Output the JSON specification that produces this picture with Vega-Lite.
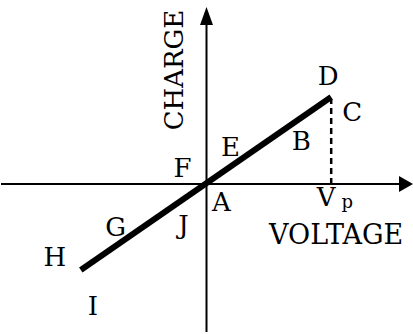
{
  "$schema": "https://vega.github.io/schema/vega-lite/v6.json",
  "width": 413,
  "height": 334,
  "autosize": {"type": "fit", "contains": "padding"},
  "padding": 0,
  "background": "white",
  "config": {"view": {"stroke": null}},
  "datasets": {
    "axes": [
      {"name": "voltage axis", "x": -206, "x2": 195, "y": 0, "y2": 0},
      {"name": "charge axis", "x": 0, "x2": 0, "y": -148, "y2": 166}
    ],
    "arrows": [
      {"name": "voltage", "x": 200, "y": 0, "dir": "right"},
      {"name": "charge", "x": 0, "y": 168, "dir": "up"}
    ],
    "line": [
      {"v": -126, "q": -86},
      {"v": 125, "q": 87}
    ],
    "dash": [
      {"v": 125, "q": 0, "q2": 85}
    ],
    "letters": [
      {"t": "D", "x": 122, "y": 107},
      {"t": "C", "x": 146, "y": 71},
      {"t": "B", "x": 95, "y": 42},
      {"t": "E", "x": 24, "y": 36},
      {"t": "F", "x": -24, "y": 15},
      {"t": "A", "x": 15, "y": -19},
      {"t": "J", "x": -23, "y": -42},
      {"t": "G", "x": -91, "y": -44},
      {"t": "H", "x": -152, "y": -74},
      {"t": "I", "x": -114, "y": -123},
      {"t": "V", "x": 120, "y": -14}
    ],
    "xlabel": [{"t": "VOLTAGE", "x": 130, "y": -52}],
    "ylabel": [{"t": "CHARGE", "x": -32, "y": 114}],
    "sub": [{"t": "p", "x": 141, "y": -24}]
  },
  "encoding": {},
  "layer": [
    {
      "data": {"name": "axes"},
      "mark": {"type": "rule", "stroke": "black", "strokeWidth": 2},
      "encoding": {
        "x": {"field": "x", "type": "quantitative", "scale": {"domain": [-206, 207], "nice": false, "zero": false}, "axis": null},
        "x2": {"field": "x2"},
        "y": {"field": "y", "type": "quantitative", "scale": {"domain": [-150, 184], "nice": false, "zero": false}, "axis": null},
        "y2": {"field": "y2"}
      }
    },
    {
      "data": {"name": "arrows"},
      "transform": [{"filter": "datum.dir == 'right'"}],
      "mark": {"type": "point", "shape": "M0.875,0L-0.875,1L-0.875,-1Z", "size": 256, "filled": true, "fill": "black", "opacity": 1, "strokeWidth": 0},
      "encoding": {
        "x": {"field": "x", "type": "quantitative"},
        "y": {"field": "y", "type": "quantitative"}
      }
    },
    {
      "data": {"name": "arrows"},
      "transform": [{"filter": "datum.dir == 'up'"}],
      "mark": {"type": "point", "shape": "M0,-1L0.72,1L-0.72,1Z", "size": 324, "filled": true, "fill": "black", "opacity": 1, "strokeWidth": 0},
      "encoding": {
        "x": {"field": "x", "type": "quantitative"},
        "y": {"field": "y", "type": "quantitative"}
      }
    },
    {
      "data": {"name": "line"},
      "mark": {"type": "line", "stroke": "black", "strokeWidth": 6, "strokeCap": "butt"},
      "encoding": {
        "x": {"field": "v", "type": "quantitative"},
        "y": {"field": "q", "type": "quantitative"}
      }
    },
    {
      "data": {"name": "dash"},
      "mark": {"type": "rule", "stroke": "black", "strokeWidth": 2.5, "strokeDash": [6, 4]},
      "encoding": {
        "x": {"field": "v", "type": "quantitative"},
        "y": {"field": "q", "type": "quantitative"},
        "y2": {"field": "q2"}
      }
    },
    {
      "data": {"name": "letters"},
      "mark": {"type": "text", "font": "DejaVu Serif", "fontSize": 26, "fill": "black", "align": "center", "baseline": "middle"},
      "encoding": {
        "x": {"field": "x", "type": "quantitative"},
        "y": {"field": "y", "type": "quantitative"},
        "text": {"field": "t"}
      }
    },
    {
      "data": {"name": "xlabel"},
      "mark": {"type": "text", "font": "DejaVu Serif", "fontSize": 27, "fill": "black", "align": "center", "baseline": "middle"},
      "encoding": {
        "x": {"field": "x", "type": "quantitative"},
        "y": {"field": "y", "type": "quantitative"},
        "text": {"field": "t"}
      }
    },
    {
      "data": {"name": "ylabel"},
      "mark": {"type": "text", "font": "DejaVu Serif", "fontSize": 26, "fill": "black", "align": "center", "baseline": "middle", "angle": 270},
      "encoding": {
        "x": {"field": "x", "type": "quantitative"},
        "y": {"field": "y", "type": "quantitative"},
        "text": {"field": "t"}
      }
    },
    {
      "data": {"name": "sub"},
      "mark": {"type": "text", "font": "DejaVu Serif", "fontSize": 18, "fill": "black", "align": "center", "baseline": "alphabetic"},
      "encoding": {
        "x": {"field": "x", "type": "quantitative"},
        "y": {"field": "y", "type": "quantitative"},
        "text": {"field": "t"}
      }
    }
  ]
}
